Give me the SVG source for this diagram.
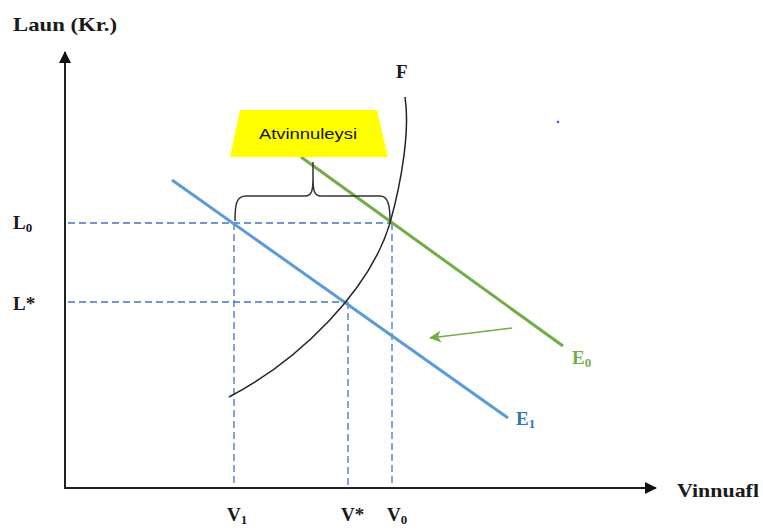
<svg xmlns="http://www.w3.org/2000/svg" width="763" height="530" viewBox="0 0 763 530">
<style>
.lbl{font-family:"Liberation Serif","Times New Roman",serif;font-weight:bold;font-size:19px;fill:#1a1a1a}
.sub{font-size:13px}
.dash{stroke:#4472C4;stroke-width:1.3;stroke-dasharray:7,4;fill:none}
.axis{stroke:#222;stroke-width:2;fill:none}
</style>
<defs>
<marker id="ah" markerWidth="12" markerHeight="12" refX="11" refY="6" orient="auto" markerUnits="userSpaceOnUse"><path d="M0,0 L12,6 L0,12 Z" fill="#111"/></marker>
<marker id="ag" markerWidth="12" markerHeight="12" refX="11" refY="6" orient="auto" markerUnits="userSpaceOnUse"><path d="M0,0 L12,6 L0,12 L3,6 Z" fill="#70AD47"/></marker>
</defs>
<rect width="763" height="530" fill="#fff"/>
<g id="axes">
<line class="axis" x1="65" y1="489" x2="65" y2="52" marker-end="url(#ah)"/>
<line class="axis" x1="64" y1="488" x2="656" y2="488" marker-end="url(#ah)"/>
<text class="lbl" x="13" y="31" textLength="104" lengthAdjust="spacingAndGlyphs">Laun (Kr.)</text>
<text class="lbl" x="677" y="497" textLength="82" lengthAdjust="spacingAndGlyphs">Vinnuafl</text>
</g>
<g id="connectors">
<line class="dash" x1="68" y1="223" x2="392" y2="223"/>
<line class="dash" x1="68" y1="302" x2="348" y2="302"/>
<line class="dash" x1="234" y1="223" x2="234" y2="487"/>
<line class="dash" x1="348" y1="302" x2="348" y2="487"/>
<line class="dash" x1="392" y1="223" x2="392" y2="487"/>
<line x1="512" y1="328" x2="430" y2="338" stroke="#70AD47" stroke-width="1.5" marker-end="url(#ag)"/>
</g>
<g id="E1">
<line x1="172" y1="180" x2="508" y2="418" stroke="#5B9BD5" stroke-width="3"/>
<text class="lbl" x="516" y="425" style="fill:#2E75B6">E<tspan class="sub" dy="3">1</tspan></text>
</g>
<g id="E0">
<line x1="301" y1="157" x2="563" y2="346" stroke="#70AD47" stroke-width="3"/>
<text class="lbl" x="572" y="364" style="fill:#70AD47">E<tspan class="sub" dy="3">0</tspan></text>
</g>
<g id="F">
<path d="M229,397 C300,360 370,290 390,223 C402,180 410,130 405,97" fill="none" stroke="#222" stroke-width="1.5"/>
<text class="lbl" x="396" y="78">F</text>
</g>
<g id="brace">
<path d="M235,221 C235,205 236,196 246,196 L305,196 C312,196 313,190 313,178 L313,162 M313,178 C313,190 314,196 321,196 L380,196 C388,196 390,205 390,221" fill="none" stroke="#333" stroke-width="1.5"/>
</g>
<g id="atvinnuleysi">
<polygon points="240,110 377,110 388,157 230,157" fill="#FFFF00"/>
<text x="308" y="139" text-anchor="middle" font-family="Liberation Sans, Arial, sans-serif" font-size="15" fill="#111" textLength="98" lengthAdjust="spacingAndGlyphs">Atvinnuleysi</text>
</g>
<g id="ylabels">
<text class="lbl" x="13" y="229">L<tspan class="sub" dy="3">0</tspan></text>
<text class="lbl" x="13" y="310">L*</text>
</g>
<g id="xlabels">
<text class="lbl" x="227" y="521">V<tspan class="sub" dy="3">1</tspan></text>
<text class="lbl" x="341" y="521">V*</text>
<text class="lbl" x="387" y="521">V<tspan class="sub" dy="3">0</tspan></text>
</g>
<circle cx="558" cy="122" r="1.2" fill="#3344ff"/>
</svg>
